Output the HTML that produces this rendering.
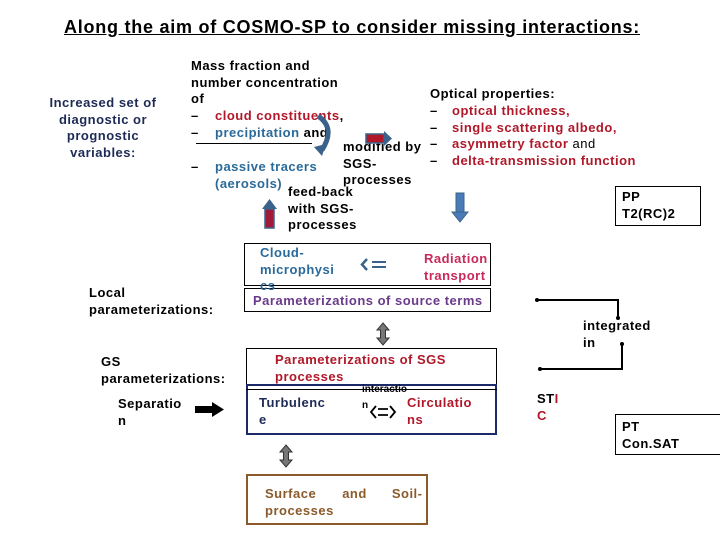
<!DOCTYPE html>
<html><head><meta charset="utf-8"><style>
body{margin:0;width:720px;height:540px;background:#fff;position:relative;overflow:hidden;font-family:"Liberation Sans",sans-serif;font-weight:bold;font-size:13px;}
.t{position:absolute;line-height:16.5px;white-space:nowrap;letter-spacing:0.5px;}
.b{position:absolute;box-sizing:border-box;}
.r{color:#b0182a}.bl{color:#2a6a9a}.nv{color:#1d2a55}
</style></head><body>
<div class="t" style="left:64px;top:17px;font-size:18px;letter-spacing:0.75px;text-decoration:underline;line-height:20px;">Along the aim of COSMO-SP to consider missing interactions:</div>

<div class="t nv" style="left:37px;top:95px;width:132px;text-align:center;">Increased set of<br>diagnostic or<br>prognostic<br>variables:</div>

<div class="t" style="left:191px;top:58px;">Mass fraction and<br>number concentration<br>of</div>
<div class="t" style="left:191px;top:108px;"><span>–</span></div>
<div class="t r" style="left:215px;top:108px;">cloud constituents<span style="color:#000">,</span></div>
<div class="t" style="left:191px;top:125px;">–</div>
<div class="t" style="left:215px;top:125px;"><span class="bl">precipitation</span> and</div>
<div class="b" style="left:196px;top:143px;width:116px;height:1px;background:#000"></div>
<div class="t" style="left:191px;top:159px;">–</div>
<div class="t bl" style="left:215px;top:159px;">passive tracers<br>(aerosols)</div>
<div class="t" style="left:343px;top:139px;">modified by<br>SGS-<br>processes</div>
<div class="t" style="left:288px;top:184px;">feed-back<br>with SGS-<br>processes</div>

<svg class="b" style="left:0;top:0" width="720" height="540">
<path d="M318 116 Q336 128 322 150" stroke="#3b628a" stroke-width="5" fill="none"/>
<polygon points="314,147 326,144 322,156" fill="#3b628a"/>
<rect x="366" y="134" width="18" height="9" fill="#b0182a" stroke="#3b628a" stroke-width="1.5"/>
<polygon points="384,131 392,138.5 384,146" fill="#3b628a"/>
<rect x="265" y="209" width="9" height="19" fill="#a01a3a" stroke="#3b628a" stroke-width="1.5"/>
<polygon points="262,209 269.5,199 277,209" fill="#3b628a"/>
<rect x="456" y="193" width="8" height="20" fill="#4a7ab8" stroke="#3b628a"/>
<polygon points="452,212 468,212 460,222" fill="#4a7ab8" stroke="#3b628a"/>
<rect x="195" y="406" width="18" height="7" fill="#000"/>
<polygon points="212,402 224,409.5 212,417" fill="#000"/>
<polyline points="537,300 618,300 618,318" fill="none" stroke="#000" stroke-width="2"/>
<polyline points="540,369 622,369 622,344" fill="none" stroke="#000" stroke-width="2"/>
<circle cx="537" cy="300" r="2"/><circle cx="540" cy="369" r="2"/>
<circle cx="618" cy="318" r="2"/><circle cx="622" cy="344" r="2"/>
<g fill="#777" stroke="#333" stroke-width="1">
<polygon points="383,323 389,330 385.5,330 385.5,338 389,338 383,345 377,338 380.5,338 380.5,330 377,330"/>
<polygon points="286,445 292,452 288.5,452 288.5,460 292,460 286,467 280,460 283.5,460 283.5,452 280,452"/>
</g>
<g fill="none" stroke="#3b628a" stroke-width="2"><path d="M372 262 L386 262 M372 267 L386 267"/><path d="M367 259 L362 264.5 L367 270" stroke-width="2.5"/></g>
<g fill="none" stroke="#000" stroke-width="1.8"><path d="M378 409 L388 409 M378 415 L388 415 M376 406 L371 412 L376 418 M390 406 L395 412 L390 418"/></g>
</svg>

<div class="b" style="left:244px;top:243px;width:247px;height:43px;border:1px solid #000"></div>
<div class="b" style="left:244px;top:288px;width:247px;height:24px;border:1px solid #000"></div>
<div class="t bl" style="left:260px;top:245px;">Cloud-<br>microphysi<br>cs</div>
<div class="t" style="left:424px;top:251px;color:#c8285a">Radiation<br>transport</div>
<div class="t" style="left:253px;top:293px;color:#6a3a8a">Parameterizations of source terms</div>

<div class="t" style="left:430px;top:86px;">Optical properties:</div>
<div class="t" style="left:430px;top:103px;">–<br>–<br>–<br>–</div>
<div class="t r" style="left:452px;top:103px;">optical thickness,<br>single scattering albedo,<br>asymmetry factor <span style="color:#000;font-weight:normal">and</span><br>delta-transmission function</div>
<div class="b" style="left:615px;top:186px;width:86px;height:40px;border:1px solid #000"></div>
<div class="t" style="left:622px;top:189px;">PP<br>T2(RC)2</div>

<div class="t" style="left:89px;top:285px;">Local<br>parameterizations:</div>
<div class="t" style="left:101px;top:354px;">GS<br>parameterizations:</div>
<div class="t" style="left:118px;top:396px;">Separatio<br>n</div>

<div class="b" style="left:246px;top:348px;width:251px;height:87px;border:1px solid #000"></div>
<div class="b" style="left:246px;top:384px;width:251px;height:51px;border:2px solid #1d2a6a"></div>
<div class="b" style="left:246px;top:389px;width:251px;height:1px;background:#000"></div>
<div class="t r" style="left:275px;top:352px;">Parameterizations of SGS<br>processes</div>
<div class="t" style="left:362px;top:382px;font-size:10px;line-height:16px;letter-spacing:0;">interactio<br>n</div>
<div class="t nv" style="left:259px;top:395px;">Turbulenc<br>e</div>
<div class="t r" style="left:407px;top:395px;">Circulatio<br>ns</div>

<div class="b" style="left:246px;top:474px;width:182px;height:51px;border:2px solid #8a5a2a"></div>
<div class="t" style="left:265px;top:486px;color:#8a5a2a">Surface<span style="display:inline-block;width:26px"></span>and<span style="display:inline-block;width:25px"></span>Soil-<br>processes</div>

<div class="t" style="left:583px;top:318px;">integrated<br>in</div>
<div class="t" style="left:537px;top:391px;">ST<span class="r">I</span><br><span class="r">C</span></div>
<div class="b" style="left:615px;top:414px;width:110px;height:41px;border:1px solid #000"></div>
<div class="t" style="left:622px;top:419px;">PT<br>Con.SAT</div>
</body></html>
